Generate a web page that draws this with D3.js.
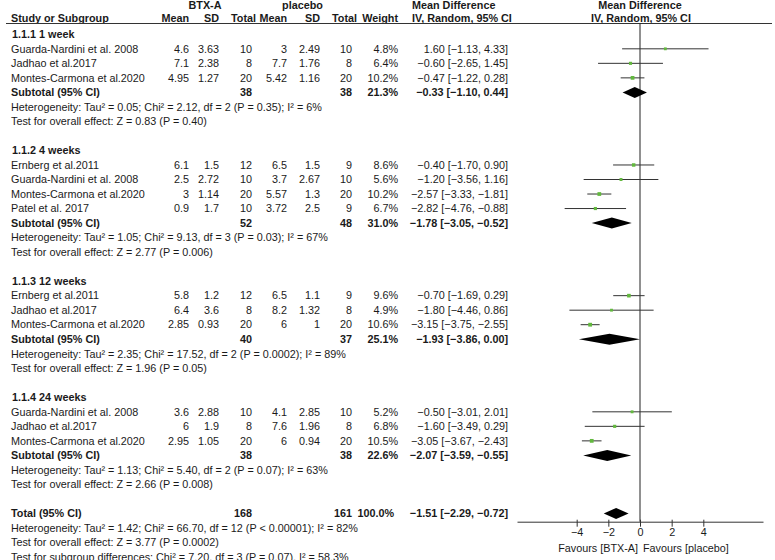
<!DOCTYPE html>
<html><head><meta charset="utf-8">
<script src="https://cdn.jsdelivr.net/npm/d3@7"></script>
<style>
body{margin:0;background:#fff;}
svg text{font-family:"Liberation Sans",Arial,sans-serif;font-size:10.8px;fill:#1a1a1a;}
</style></head><body>
<svg id="c" width="775" height="560"></svg>
<script>
// ---- data ----
const subgroupLabels = ["1.1.1 1 week","1.1.2 4 weeks","1.1.3 12 weeks","1.1.4 24 weeks"];
const studyGroup = [0,0,0, 1,1,1,1, 2,2,2, 3,3,3];
const studyNames = ["Guarda-Nardini et al. 2008","Jadhao et al.2017","Montes-Carmona et al.2020",
  "Ernberg et al.2011","Guarda-Nardini et al. 2008","Montes-Carmona et al.2020","Patel et al. 2017",
  "Ernberg et al.2011","Jadhao et al.2017","Montes-Carmona et al.2020",
  "Guarda-Nardini et al. 2008","Jadhao et al.2017","Montes-Carmona et al.2020"];
const btxMean  = [4.6,7.1,4.95, 6.1,2.5,3,0.9, 5.8,6.4,2.85, 3.6,6,2.95];
const btxSD    = [3.63,2.38,1.27, 1.5,2.72,1.14,1.7, 1.2,3.6,0.93, 2.88,1.9,1.05];
const btxN     = [10,8,20, 12,10,20,10, 12,8,20, 10,8,20];
const plMean   = [3,7.7,5.42, 6.5,3.7,5.57,3.72, 6.5,8.2,6, 4.1,7.6,6];
const plSD     = [2.49,1.76,1.16, 1.5,2.67,1.3,2.5, 1.1,1.32,1, 2.85,1.96,0.94];
const plN      = [10,8,20, 9,10,20,9, 9,8,20, 10,8,20];
const weights  = [4.8,6.4,10.2, 8.6,5.6,10.2,6.7, 9.6,4.9,10.6, 5.2,6.8,10.5];
const md       = [1.60,-0.60,-0.47, -0.40,-1.20,-2.57,-2.82, -0.70,-1.80,-3.15, -0.50,-1.60,-3.05];
const ciLow    = [-1.13,-2.65,-1.22, -1.70,-3.56,-3.33,-4.76, -1.69,-4.46,-3.75, -3.01,-3.49,-3.67];
const ciHigh   = [4.33,1.45,0.28, 0.90,1.16,-1.81,-0.88, 0.29,0.86,-2.55, 2.01,0.29,-2.43];

const subBtxN  = [38,52,40,38];
const subPlN   = [38,48,37,38];
const subW     = [21.3,31.0,25.1,22.6];
const subMD    = [-0.33,-1.78,-1.93,-2.07];
const subLow   = [-1.10,-3.05,-3.86,-3.59];
const subHigh  = [0.44,-0.52,0.00,-0.55];
const subHet   = ["Heterogeneity: Tau² = 0.05; Chi² = 2.12, df = 2 (P = 0.35); I² = 6%",
  "Heterogeneity: Tau² = 1.05; Chi² = 9.13, df = 3 (P = 0.03); I² = 67%",
  "Heterogeneity: Tau² = 2.35; Chi² = 17.52, df = 2 (P = 0.0002); I² = 89%",
  "Heterogeneity: Tau² = 1.13; Chi² = 5.40, df = 2 (P = 0.07); I² = 63%"];
const subTest  = ["Test for overall effect: Z = 0.83 (P = 0.40)","Test for overall effect: Z = 2.77 (P = 0.006)",
  "Test for overall effect: Z = 1.96 (P = 0.05)","Test for overall effect: Z = 2.66 (P = 0.008)"];

const totalBtxN = 168, totalPlN = 161, totalW = 100.0;
const totalMD = -1.51, totalLow = -2.29, totalHigh = -0.72;
const totalNotes = ["Heterogeneity: Tau² = 1.42; Chi² = 66.70, df = 12 (P < 0.00001); I² = 82%",
  "Test for overall effect: Z = 3.77 (P = 0.0002)",
  "Test for subgroup differences: Chi² = 7.20, df = 3 (P = 0.07), I² = 58.3%"];
const axisTicks = [-4,-2,0,2,4];
const axisLabels = ["Favours [BTX-A]","Favours [placebo]"];

// ---- layout ----
const svg = d3.select("#c");
const rowY = i => 34.3 + i*14.52;
const col = {btxMean:189, btxSD:219, btxN:252, plMean:287, plSD:320, plN:352, w:398, md:508};
const hcol = {btxN:256, plN:357};
const x = d3.scaleLinear().domain([-7.77,7.77]).range([517,763]);
const axisY = 521.7;
const fmt2 = d3.format(".2f"), fmt1 = d3.format(".1f");
const ci = (m,l,h) => `${fmt2(m)} [${fmt2(l)}, ${fmt2(h)}]`;

function txt(xp, y, s, opts={}) {
  const t = svg.append("text").attr("x", xp).attr("y", y).attr("dy","0.35em").text(s);
  if (opts.anchor) t.attr("text-anchor", opts.anchor);
  if (opts.bold) t.attr("font-weight","bold");
  return t;
}

// headers
txt(205, 5.7, "BTX-A", {anchor:"middle", bold:true});
txt(302.5, 5.7, "placebo", {anchor:"middle", bold:true});
txt(412, 5.7, "Mean Difference", {bold:true});
txt(640, 5.7, "Mean Difference", {anchor:"middle", bold:true});
const hy = 18.5;
txt(11, hy, "Study or Subgroup", {bold:true});
[["Mean",col.btxMean],["SD",col.btxSD],["Total",hcol.btxN],["Mean",col.plMean],["SD",col.plSD],["Total",hcol.plN],["Weight",col.w]]
  .forEach(([s,xp]) => txt(xp, hy, s, {anchor:"end", bold:true}));
txt(412, hy, "IV, Random, 95% CI", {bold:true});
txt(641, hy, "IV, Random, 95% CI", {anchor:"middle", bold:true});
svg.append("line").attr("x1",6).attr("x2",772).attr("y1",23.5).attr("y2",23.5)
  .attr("stroke","#333").attr("stroke-width",1);

// zero line
svg.append("line").attr("x1",x(0)).attr("x2",x(0)).attr("y1",23.5).attr("y2",axisY)
  .attr("stroke","#222").attr("stroke-width",1);

// rows
let r = 0;
const diamond = (m,l,h,y,hh) => `M${x(l)},${y}L${x(m)},${y-hh}L${x(h)},${y}L${x(m)},${y+hh}Z`;
subgroupLabels.forEach((lab, g) => {
  txt(12, rowY(r), lab, {bold:true}); r++;
  studyGroup.forEach((sg, i) => {
    if (sg !== g) return;
    const y = rowY(r);
    txt(11, y, studyNames[i]);
    txt(col.btxMean, y, String(btxMean[i]), {anchor:"end"});
    txt(col.btxSD, y, String(btxSD[i]), {anchor:"end"});
    txt(col.btxN, y, String(btxN[i]), {anchor:"end"});
    txt(col.plMean, y, String(plMean[i]), {anchor:"end"});
    txt(col.plSD, y, String(plSD[i]), {anchor:"end"});
    txt(col.plN, y, String(plN[i]), {anchor:"end"});
    txt(col.w, y, fmt1(weights[i]) + "%", {anchor:"end"});
    txt(col.md, y, ci(md[i], ciLow[i], ciHigh[i]), {anchor:"end"});
    svg.append("line").attr("x1", x(ciLow[i])).attr("x2", x(ciHigh[i])).attr("y1", y).attr("y2", y)
      .attr("stroke","#333").attr("stroke-width",1);
    const s = 2 + weights[i]*0.17;
    svg.append("rect").attr("x", x(md[i]) - s/2).attr("y", y - s/2).attr("width", s).attr("height", s)
      .attr("fill","#62b83e");
    r++;
  });
  const y = rowY(r);
  txt(11, y, "Subtotal (95% CI)", {bold:true});
  txt(col.btxN, y, String(subBtxN[g]), {anchor:"end", bold:true});
  txt(col.plN, y, String(subPlN[g]), {anchor:"end", bold:true});
  txt(col.w, y, fmt1(subW[g]) + "%", {anchor:"end", bold:true});
  txt(col.md, y, ci(subMD[g], subLow[g], subHigh[g]), {anchor:"end", bold:true});
  svg.append("path").attr("d", diamond(subMD[g], subLow[g], subHigh[g], y, 5.5)).attr("fill","#000");
  r++;
  txt(11, rowY(r), subHet[g]); r++;
  txt(11, rowY(r), subTest[g]); r++;
  r++;
});
{
  const y = rowY(r);
  txt(11, y, "Total (95% CI)", {bold:true});
  txt(col.btxN, y, String(totalBtxN), {anchor:"end", bold:true});
  txt(col.plN, y, String(totalPlN), {anchor:"end", bold:true});
  txt(col.w - 4, y, fmt1(totalW) + "%", {anchor:"end", bold:true});
  txt(col.md, y, ci(totalMD, totalLow, totalHigh), {anchor:"end", bold:true});
  svg.append("path").attr("d", diamond(totalMD, totalLow, totalHigh, y, 5.5)).attr("fill","#000");
  r++;
  totalNotes.forEach(n => { txt(11, rowY(r), n); r++; });
}

// axis
const ax = svg.append("g").attr("transform", `translate(0,${axisY})`)
  .call(d3.axisBottom(x).tickValues(axisTicks).tickSize(5).tickSizeOuter(0).tickFormat(d3.format("d")));
ax.select(".domain").attr("stroke","#333");
ax.selectAll(".tick line").attr("stroke","#333").attr("y1",-2).attr("y2",5);
ax.selectAll(".tick text").attr("y",7).attr("dy","0.71em")
  .style("font-family",'"Liberation Sans",Arial,sans-serif').style("font-size","10.8px").attr("fill","#1a1a1a");
txt(x(0) - 2, 548.5, axisLabels[0], {anchor:"end"});
txt(x(0) + 3, 548.5, axisLabels[1]);
</script></body></html>
